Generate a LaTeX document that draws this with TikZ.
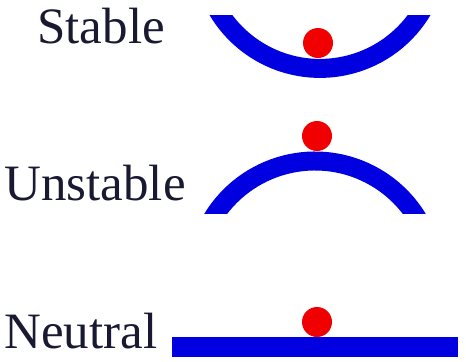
\documentclass[tikz,border=0pt]{standalone}
\usepackage{fontspec}
\setmainfont{Liberation Serif}
\usepackage{xcolor}
\usepackage{tikz}
\usetikzlibrary{positioning}
\definecolor{trackblue}{RGB}{0,0,225}
\definecolor{ballred}{RGB}{240,0,0}
\definecolor{labeltext}{RGB}{25,25,50}
\tikzset{
  statelabel/.style={anchor=base west, inner sep=0pt, text=labeltext, font=\fontsize{25.5}{30}\selectfont},
  track/.style={draw=trackblue, line width=9.5pt},
  ball/.style={circle, fill=ballred, minimum size=15pt, inner sep=0pt},
}

\begin{document}
\begin{tikzpicture}[x=0.5pt, y=-0.5pt]
          \useasboundingbox (0,0) rectangle (466,361);

          \node[statelabel] (stable) at (37,43) {Stable};
          \node[statelabel] (unstable) at (4,200) {Unstable};
          \node[statelabel] (neutral) at (4,348) {Neutral};

          \begin{scope}
            \clip (190,15) rectangle (450,100);
            \draw[track] (320,-50.6) ++(30:119) arc[start angle=30, end angle=150, radius=119];
          \end{scope}
          \node[ball] (stableball) at (318,43) {};

          \begin{scope}
            \clip (190,140) rectangle (450,213);
            \draw[track] (315,281) ++(205:120) arc[start angle=205, end angle=335, radius=120];
          \end{scope}
          \node[ball] (unstableball) at (317,136) {};

          \fill[trackblue] (172,337) rectangle (458,357);
          \node[ball] (neutralball) at (317,322) {};
        \end{tikzpicture}
\end{document}
